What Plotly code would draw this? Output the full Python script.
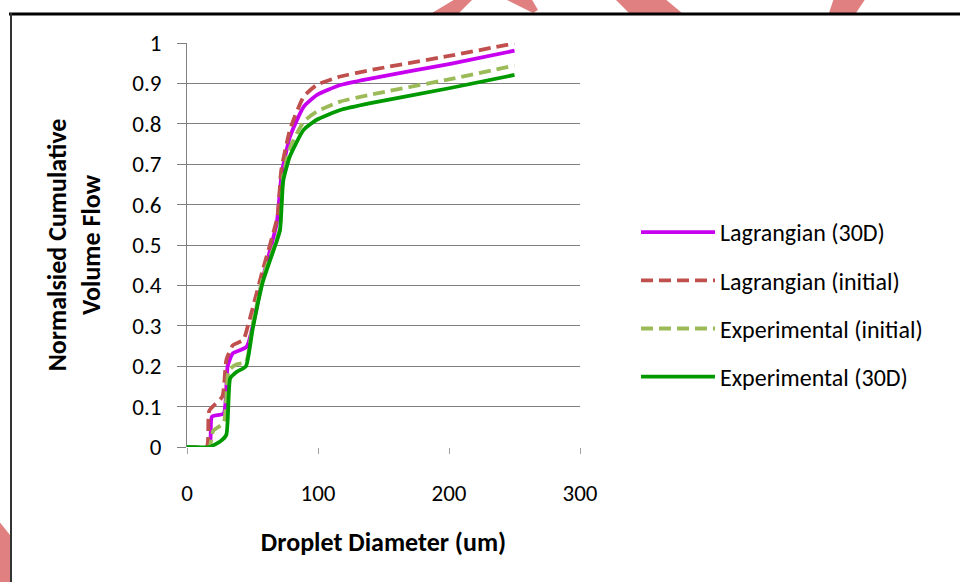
import plotly.graph_objects as go

# ---- data ----
lag30_x = [0, 17, 19, 28, 31, 35, 45.5, 58, 68.5, 72.3, 78.6, 89, 99, 117, 140, 200, 250]
lag30_y = [0, 0, 0.075, 0.083, 0.2, 0.232, 0.248, 0.42, 0.554, 0.677, 0.768, 0.842, 0.871, 0.896, 0.912, 0.948, 0.981]

lagini_x = [0, 15, 17, 27, 30, 35, 43, 47, 58, 69, 72, 78.6, 89, 99, 117, 140, 200, 250]
lagini_y = [0, 0, 0.09, 0.125, 0.215, 0.252, 0.265, 0.306, 0.44, 0.57, 0.686, 0.785, 0.867, 0.896, 0.917, 0.933, 0.968, 0.999]

expini_x = [0, 17, 20, 28, 32, 38, 45, 50, 58, 68, 71, 73.5, 78.6, 89, 99, 117, 140, 200, 250]
expini_y = [0, 0, 0.04, 0.06, 0.19, 0.205, 0.21, 0.30, 0.42, 0.51, 0.54, 0.67, 0.74, 0.805, 0.83, 0.855, 0.872, 0.91, 0.944]

exp30_x = [0, 17, 25, 30, 33, 38, 45, 50, 58, 68, 71, 73.5, 78.6, 89, 99, 117, 140, 200, 250]
exp30_y = [0, 0, 0.013, 0.03, 0.17, 0.186, 0.2, 0.29, 0.41, 0.505, 0.537, 0.66, 0.72, 0.785, 0.81, 0.834, 0.851, 0.888, 0.921]

series_names = ["Lagrangian (30D)", "Lagrangian (initial)", "Experimental (initial)", "Experimental (30D)"]
x_ticks = [0, 100, 200, 300]
y_ticks = [0, 0.1, 0.2, 0.3, 0.4, 0.5, 0.6, 0.7, 0.8, 0.9, 1]
y_tick_labels = ["0", "0.1", "0.2", "0.3", "0.4", "0.5", "0.6", "0.7", "0.8", "0.9", "1"]

FONT = "Carlito, Calibri, 'Liberation Sans Narrow', 'Liberation Sans', sans-serif"

fig = go.Figure()
styles = [
    (lag30_x, lag30_y, "#C800F0", "solid"),
    (lagini_x, lagini_y, "#C0504D", "12px,6px"),
    (expini_x, expini_y, "#9BBB59", "12px,6px"),
    (exp30_x, exp30_y, "#009A00", "solid"),
]
for name, (xs, ys, col, dash) in zip(series_names, styles):
    fig.add_trace(go.Scatter(
        x=xs, y=ys, mode="lines", name=name, legendgroup=name,
        line=dict(color=col, width=3.8, dash=dash, shape="spline", smoothing=0.5),
    ))

# pixel -> paper helper for decorative frame/watermark
L, R, T, B = 187, 580, 43, 447
def px(x):
    return (x - L) / (R - L)
def py(y):
    return (B - y) / (B - T)

shapes = []
wm = "#E08080"
polys = [
    [(432, 13), (459, 13), (474, -2), (457, -2)],
    [(503, -2), (531, -2), (538, 10), (533, 13)],
    [(614, -2), (664, -2), (682, 13), (629, 13)],
    [(834, -2), (866, -2), (856, 13), (829, 13)],
    [(-2, 520), (10, 535), (10, 590), (-2, 590)],
]
for poly in polys:
    path = "M " + " L ".join(f"{px(a):.4f},{py(b):.4f}" for a, b in poly) + " Z"
    shapes.append(dict(type="path", xref="paper", yref="paper", path=path,
                       fillcolor=wm, line=dict(width=0), layer="below"))
# black frame
shapes.append(dict(type="line", xref="paper", yref="paper",
                   x0=px(9), x1=px(965), y0=py(14), y1=py(14),
                   line=dict(color="#000000", width=3)))
shapes.append(dict(type="line", xref="paper", yref="paper",
                   x0=px(11), x1=px(11), y0=py(13), y1=py(590),
                   line=dict(color="#333333", width=2)))

fig.update_layout(
    width=960, height=582,
    margin=dict(l=L, r=960 - R, t=T, b=582 - B, autoexpand=False),
    paper_bgcolor="white", plot_bgcolor="white",
    font=dict(family=FONT, size=23, color="#000000"),
    showlegend=True,
    legend=dict(x=px(636), y=py(210), xanchor="left", yanchor="top",
                font=dict(family=FONT, size=24, color="#000000"),
                itemwidth=74, tracegroupgap=14, bgcolor="rgba(0,0,0,0)"),
    shapes=shapes,
    xaxis=dict(range=[0, 300], tickvals=x_ticks, ticktext=[str(v) for v in x_ticks],
               showgrid=False, zeroline=False, showline=False,
               ticks="outside", ticklen=6, tickcolor="#A0A0A0",
               ticklabelstandoff=19, tickfont=dict(size=23),
               title=dict(text="<b>Droplet Diameter (um)</b>", font=dict(size=26), standoff=27)),
    yaxis=dict(range=[0, 1], tickvals=y_ticks, ticktext=y_tick_labels,
               showgrid=True, gridcolor="#808080", gridwidth=1,
               zeroline=False, showline=True, linecolor="#808080", linewidth=1,
               ticks="outside", ticklen=9, tickcolor="#808080",
               ticklabelstandoff=11, tickfont=dict(size=23),
               title=dict(text="<b>Normalsied Cumulative<br>Volume Flow</b>", font=dict(size=26), standoff=24)),
)

fig.write_html("out.html", config={"displayModeBar": False},
               post_script="document.body.style.margin='0px';")
